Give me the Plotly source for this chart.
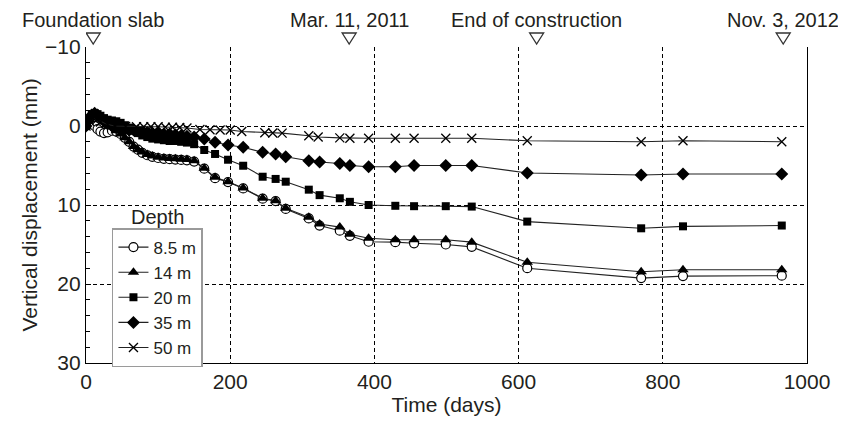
import plotly.graph_objects as go

# ---------------- data ----------------
days = [0, 4, 8, 12, 16, 20, 25, 30, 36, 42, 48, 54, 60, 66, 72, 78, 85, 92, 100, 108,
        116, 124, 132, 140, 150, 164, 179, 197, 218, 245, 263, 277, 309, 324, 352, 366,
        392, 429, 455, 499, 535, 612, 770, 828, 965]

d_8_5 = [0, -0.3, -0.4, 0.0, 0.4, 0.7, 0.9, 0.8, 0.6, 0.7, 1.0, 1.5, 2.0, 2.6, 3.0, 3.4,
         3.7, 3.9, 4.05, 4.15, 4.2, 4.25, 4.3, 4.35, 4.5, 5.4, 6.6, 7.1, 7.9, 9.2, 9.5,
         10.5, 11.7, 12.6, 13.25, 13.9, 14.65, 14.7, 14.85, 15.0, 15.3, 18.0, 19.25, 19.0, 18.95]
d_14 = [0, -0.8, -1.4, -1.6, -1.4, -1.1, -0.7, -0.3, 0.1, 0.6, 1.0, 1.5, 2.0, 2.6, 3.0, 3.3,
        3.6, 3.8, 3.95, 4.05, 4.1, 4.15, 4.2, 4.25, 4.4, 5.35, 6.5, 7.05, 7.85, 9.15, 9.46,
        10.4, 11.55, 12.4, 12.8, 13.7, 14.2, 14.4, 14.4, 14.4, 14.7, 17.25, 18.45, 18.2, 18.2]
d_20 = [0, -0.8, -1.4, -1.6, -1.5, -1.3, -1.0, -0.8, -0.7, -0.6, -0.4, -0.1, 0.2, 0.6, 0.9,
        1.2, 1.4, 1.6, 1.7, 1.8, 1.9, 1.9, 2.0, 2.1, 2.3, 3.04, 3.54, 4.27, 5.03, 6.42, 6.7,
        7.05, 8.06, 8.75, 9.15, 9.6, 10.0, 10.1, 10.15, 10.15, 10.2, 12.1, 12.95, 12.7, 12.6]
d_35 = [0, -0.8, -1.4, -1.6, -1.4, -1.0, -0.6, -0.3, 0.0, 0.2, 0.3, 0.4, 0.5, 0.5, 0.6, 0.7,
        0.8, 0.9, 0.9, 1.0, 1.0, 1.1, 1.2, 1.3, 1.4, 1.65, 2.06, 2.4, 2.7, 3.33, 3.54, 3.89,
        4.39, 4.55, 4.75, 5.0, 5.15, 5.15, 5.0, 5.0, 5.0, 5.95, 6.2, 6.08, 6.08]

days_50 = [0, 5, 10, 15, 20, 30, 40, 55, 70, 80, 90, 100, 110, 120, 130, 140, 158, 172, 186,
           200, 216, 248, 259, 272, 309, 322, 352, 366, 392, 429, 455, 499, 535, 612, 770,
           828, 965]
d_50 = [0, -0.6, -1.0, -0.8, -0.5, -0.2, 0.0, 0.05, 0.1, 0.1, 0.1, 0.1, 0.15, 0.15, 0.2,
        0.25, 0.45, 0.47, 0.5, 0.5, 0.7, 0.85, 0.89, 0.9, 1.23, 1.4, 1.5, 1.55, 1.56, 1.56,
        1.56, 1.56, 1.56, 1.86, 1.99, 1.86, 1.99]

event_days = [10, 365, 625, 967]
event_labels = ["Foundation slab", "Mar. 11, 2011", "End of construction", "Nov. 3, 2012"]

x_ticks = [0, 200, 400, 600, 800, 1000]
y_ticks = [-10, 0, 10, 20, 30]

# ---------------- styling ----------------
FONT = "Liberation Sans, Arial, sans-serif"
FS = 21
TXT = "#231f20"
LINE = "#222222"

fig = go.Figure()

series = [
    ("8.5 m", days, d_8_5, dict(symbol="circle", size=9, color="white", line=dict(width=1.2, color="black"))),
    ("14 m", days, d_14, dict(symbol="triangle-up", size=10, color="black")),
    ("20 m", days, d_20, dict(symbol="square", size=8, color="black")),
    ("35 m", days, d_35, dict(symbol="diamond", size=10, color="black")),
    ("50 m", days_50, d_50, dict(symbol="x-thin-open", size=9, color="black", line=dict(width=1.3, color="black"))),
]
for name, xs, ys, mk in series:
    fig.add_trace(go.Scatter(
        x=xs, y=ys, name=name, mode="lines+markers",
        line=dict(color=LINE, width=1.1), marker=mk,
    ))

# event markers: open triangles just above the plot (pixel-sized shapes), labels above them
for d, lab in zip(event_days, event_labels):
    fig.add_shape(type="path", xref="x", yref="paper", xsizemode="pixel", ysizemode="pixel",
                  xanchor=d, yanchor=1, path="M-7,14 L7,14 L0,3 Z",
                  line=dict(color="#333", width=1.3), fillcolor="rgba(0,0,0,0)", layer="above")
    fig.add_annotation(x=d, xref="x", y=1, yref="paper", yshift=27, text=lab,
                       showarrow=False, xanchor="center", yanchor="middle",
                       font=dict(family=FONT, size=20, color=TXT))

fig.add_annotation(x=0.06, xref="paper", y=0.462, yref="paper", text="Depth",
                   showarrow=False, xanchor="left", yanchor="middle",
                   font=dict(family=FONT, size=20, color=TXT))

fig.update_layout(
    width=838, height=419,
    margin=dict(l=78, r=39, t=39, b=64),
    paper_bgcolor="white", plot_bgcolor="white",
    font=dict(family=FONT, size=FS, color=TXT),
    showlegend=True,
    legend=dict(x=0.036, y=0.427, xanchor="left", yanchor="top",
                bgcolor="white", bordercolor="#9a9a9a", borderwidth=1.5,
                font=dict(family=FONT, size=17, color=TXT),
                tracegroupgap=0, itemwidth=30),
    xaxis=dict(range=[0, 1000], tickvals=x_ticks, showgrid=True, gridcolor="black",
               griddash="4px,3px", gridwidth=1, showline=True, linecolor="black",
               linewidth=1.3, ticks="", zeroline=False,
               title=dict(text="Time (days)", font=dict(size=FS), standoff=4)),
    xaxis2=dict(range=[0, 1000], overlaying="x", anchor="free", position=0.75,
                side="top", tickmode="linear", tick0=0, dtick=50, ticks="outside",
                ticklen=5, tickcolor="black", showticklabels=False, showline=True,
                linecolor="black", linewidth=1.2, showgrid=False, zeroline=False),
    yaxis=dict(range=[30, -10], tickvals=y_ticks, showgrid=True, gridcolor="black",
               griddash="4px,3px", gridwidth=1, showline=True, linecolor="black",
               linewidth=1.3, mirror=True, ticks="inside", ticklen=5, tickcolor="black",
               minor=dict(dtick=2, ticks="inside", ticklen=4, tickcolor="black", showgrid=False),
               zeroline=False,
               title=dict(text="Vertical displacement (mm)", font=dict(size=FS), standoff=1)),
)

fig.write_html("out.html")
